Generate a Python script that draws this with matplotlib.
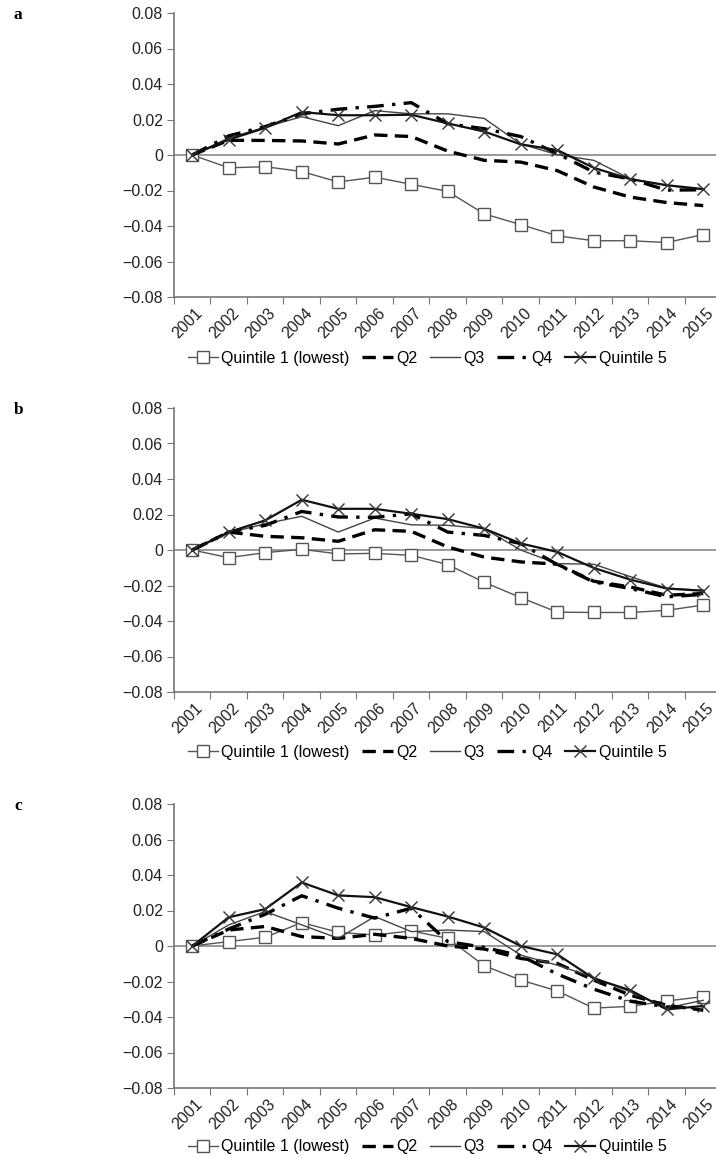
import matplotlib
matplotlib.use("Agg")
import matplotlib.pyplot as plt
import numpy as np

plt.rcParams['font.family'] = ['Liberation Sans', 'DejaVu Sans']

years = [str(y) for y in range(2001, 2016)]
series_names = ["Quintile 1 (lowest)", "Q2", "Q3", "Q4", "Quintile 5"]

a_q1 = [0, -0.0072, -0.0066, -0.0093, -0.0152, -0.0125, -0.0165, -0.0205, -0.0332, -0.0392, -0.0455, -0.0483, -0.0483, -0.0493, -0.0448]
a_q2 = [0, 0.0083, 0.0082, 0.0079, 0.0062, 0.0113, 0.0104, 0.0022, -0.0030, -0.0040, -0.0088, -0.0180, -0.0237, -0.0268, -0.0285]
a_q3 = [0, 0.0096, 0.0157, 0.0216, 0.0165, 0.0250, 0.0232, 0.0232, 0.0206, 0.0062, 0.0002, -0.0030, -0.0134, -0.0172, -0.0195]
a_q4 = [0, 0.0108, 0.0160, 0.0232, 0.0258, 0.0274, 0.0295, 0.0176, 0.0148, 0.0104, 0.0008, -0.0096, -0.0135, -0.0198, -0.0196]
a_q5 = [0, 0.0087, 0.0153, 0.0242, 0.0224, 0.0224, 0.0227, 0.0178, 0.0132, 0.0060, 0.0028, -0.0072, -0.0136, -0.0170, -0.0192]

b_q1 = [0, -0.0043, -0.0015, 0.0004, -0.0022, -0.0019, -0.0030, -0.0082, -0.0182, -0.0268, -0.0350, -0.0352, -0.0352, -0.0340, -0.0310]
b_q2 = [0, 0.0101, 0.0077, 0.0069, 0.0049, 0.0114, 0.0105, 0.0017, -0.0040, -0.0067, -0.0080, -0.0176, -0.0208, -0.0255, -0.0245]
b_q3 = [0, 0.0096, 0.0148, 0.0190, 0.0101, 0.0180, 0.0142, 0.0139, 0.0120, 0.0000, -0.0077, -0.0080, -0.0150, -0.0215, -0.0227]
b_q4 = [0, 0.0101, 0.0139, 0.0217, 0.0186, 0.0184, 0.0204, 0.0101, 0.0082, 0.0036, -0.0082, -0.0180, -0.0217, -0.0264, -0.0250]
b_q5 = [0, 0.0101, 0.0167, 0.0283, 0.0232, 0.0232, 0.0204, 0.0174, 0.0120, 0.0037, -0.0011, -0.0101, -0.0167, -0.0217, -0.0230]

c_q1 = [0, 0.0025, 0.0049, 0.0132, 0.0077, 0.0062, 0.0085, 0.0043, -0.0111, -0.0192, -0.0253, -0.0350, -0.0340, -0.0310, -0.0285]
c_q2 = [0, 0.0090, 0.0110, 0.0053, 0.0043, 0.0066, 0.0043, 0.0000, -0.0017, -0.0070, -0.0098, -0.0192, -0.0277, -0.0334, -0.0362]
c_q3 = [0, 0.0119, 0.0194, 0.0119, 0.0043, 0.0166, 0.0081, 0.0090, 0.0081, -0.0051, -0.0108, -0.0177, -0.0258, -0.0349, -0.0306]
c_q4 = [0, 0.0096, 0.0179, 0.0283, 0.0213, 0.0157, 0.0213, 0.0025, -0.0008, -0.0055, -0.0158, -0.0243, -0.0311, -0.0343, -0.0349]
c_q5 = [0, 0.0162, 0.0208, 0.0358, 0.0285, 0.0275, 0.0219, 0.0166, 0.0104, 0.0000, -0.0047, -0.0183, -0.0249, -0.0357, -0.0338]

panels = [
    ("a", [a_q1, a_q2, a_q3, a_q4, a_q5]),
    ("b", [b_q1, b_q2, b_q3, b_q4, b_q5]),
    ("c", [c_q1, c_q2, c_q3, c_q4, c_q5]),
]

yticks = [0.08, 0.06, 0.04, 0.02, 0, -0.02, -0.04, -0.06, -0.08]

W, H = 716, 1158
fig = plt.figure(figsize=(W / 100, H / 100), dpi=100)

# (top px, bottom px, legend y px)
layout = [(13, 297, 358), (408, 692, 752), (804, 1088, 1147)]
left_px, right_px = 174, 716
FS = 11.5

styles = [
    dict(color="#555555", lw=1.0, ls="-", marker="s", ms=8.5, mfc="white", mec="#555555", mew=1.0),
    dict(color="black", lw=2.4, ls=(0, (4, 2.2)), marker=None),
    dict(color="#444444", lw=1.0, ls="-", marker=None),
    dict(color="black", lw=2.4, ls=(0, (5, 2.5, 1, 2.5)), marker=None),
    dict(color="#111111", lw=1.6, ls="-", marker="x", ms=9, mec="#333333", mew=1.0),
]

x = np.arange(len(years))
for (letter, data), (top, bot, leg_y) in zip(panels, layout):
    ax = fig.add_axes([left_px / W, 1 - bot / H, (right_px - left_px) / W, (bot - top) / H])
    ax.axhline(0, color="#888888", lw=1.2, zorder=1)
    handles = []
    for name, vals, st in zip(series_names, data, styles):
        h, = ax.plot(x, vals, label=name, zorder=3, **st)
        handles.append(h)
    ax.set_xlim(-0.5, 14.35)
    ax.set_ylim(-0.08, 0.08)
    ax.set_yticks(yticks)
    ax.set_yticklabels([("0" if v == 0 else f"{v:.2f}".replace("-", "\u2212")) for v in yticks],
                       fontsize=FS, color="#222222")
    ax.set_xticks(np.arange(-0.5, 14, 1.0))
    ax.set_xticklabels([])
    ax.set_xticks(x + 0.08, minor=True)
    ax.set_xticklabels(years, minor=True, rotation=45, ha="right", va="top",
                       rotation_mode="anchor", fontsize=FS, color="#222222")
    ax.tick_params(axis="x", which="minor", length=0, pad=6)
    ax.tick_params(axis="x", which="major", length=5, direction="out", color="#777777")
    ax.tick_params(axis="y", length=5, direction="out", color="#777777", pad=3)
    for s in ["top", "right"]:
        ax.spines[s].set_visible(False)
    for s in ["left", "bottom"]:
        ax.spines[s].set_color("#777777")
        ax.spines[s].set_linewidth(1.2)
    fig.legend(handles=handles, loc="center", bbox_to_anchor=(427 / W, 1 - leg_y / H),
               ncol=5, frameon=False, fontsize=FS, handlelength=1.9,
               handletextpad=0.2, columnspacing=0.8, borderaxespad=0)
    fig.text(14 / W, 1 - (top + 2) / H, letter, fontfamily="Liberation Serif",
             fontweight="bold", fontsize=12.5, ha="left", va="center")

fig.savefig("out.png", dpi=100)
